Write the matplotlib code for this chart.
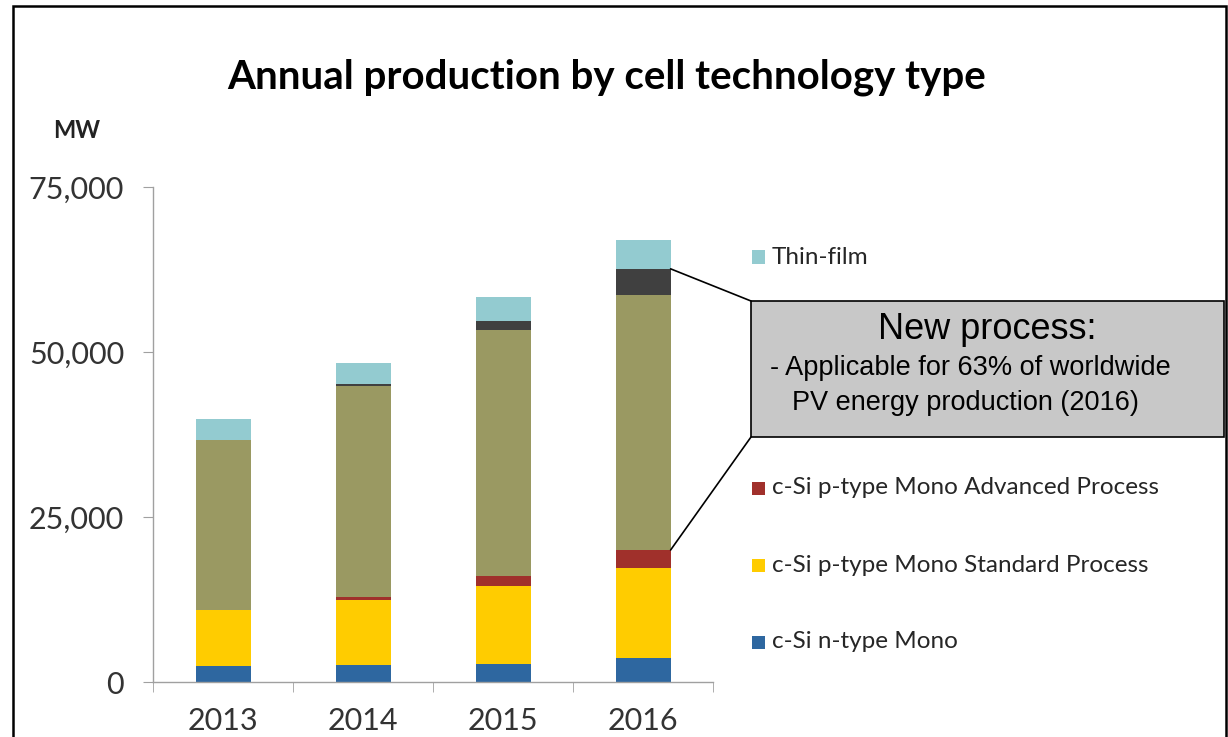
import matplotlib.pyplot as plt
from matplotlib.patches import Rectangle, ConnectionPatch
from matplotlib.ticker import FuncFormatter, FixedLocator
import numpy as np

years = ["2013", "2014", "2015", "2016"]
n_mono = [2400, 2600, 2800, 3700]
p_mono_std = [8500, 9800, 11700, 13500]
p_mono_adv = [0, 500, 1600, 2800]
p_multi_std = [25800, 31900, 37200, 38600]
p_multi_adv = [0, 400, 1400, 4000]
thin_film = [3100, 3200, 3700, 4300]

# name, values, colour, shown in legend (two entries sit under the callout box)
series = [
    ("c-Si n-type Mono", n_mono, "#2E67A0", True),
    ("c-Si p-type Mono Standard Process", p_mono_std, "#FFCC00", True),
    ("c-Si p-type Mono Advanced Process", p_mono_adv, "#A0302B", True),
    ("c-Si p-type Multi Standard Process", p_multi_std, "#9A9962", False),
    ("c-Si p-type Multi Advanced Process", p_multi_adv, "#404040", False),
    ("Thin-film", thin_film, "#93CBD0", True),
]

W, H = 1228, 737
fig = plt.figure(figsize=(W / 100, H / 100), dpi=100)
ax = fig.add_axes([153.3 / W, 55 / H, 560 / W, 495 / H])

x = np.arange(len(years))
bw = 0.39
bottom = np.zeros(len(years))
tops = []
for name, vals, col, _ in series:
    ax.bar(x, vals, bw, bottom=bottom, color=col, linewidth=0, zorder=2)
    bottom = bottom + np.array(vals)
    tops.append(bottom.copy())

ax.set_xlim(-0.5, 3.5)
ax.set_ylim(0, 75000)
ax.set_yticks([0, 25000, 50000, 75000])
ax.yaxis.set_major_formatter(FuncFormatter(lambda v, p: f"{int(v):,}"))
ax.set_xticks(x)
ax.set_xticklabels(years)
ax.xaxis.set_minor_locator(FixedLocator([-0.5, 0.5, 1.5, 2.5, 3.5]))
ax.tick_params(axis="x", which="major", length=0, pad=18, labelsize=22, labelcolor="#333333")
ax.tick_params(axis="x", which="minor", length=7, color="#A0A0A0", direction="out")
ax.tick_params(axis="y", length=7, color="#A0A0A0", pad=14, labelsize=22, labelcolor="#333333")
for lab in ax.get_xticklabels() + ax.get_yticklabels():
    lab.set_family("Lato")
for s in ["top", "right"]:
    ax.spines[s].set_visible(False)
for s in ["left", "bottom"]:
    ax.spines[s].set_color("#A0A0A0")
    ax.spines[s].set_linewidth(1)

fig.text(607 / W, 1 - 88 / H, "Annual production by cell technology type", ha="center",
         va="baseline", fontsize=29, fontweight="bold", family="Lato", color="black")
fig.text(53 / W, 1 - 138 / H, "MW", ha="left", va="baseline", fontsize=17,
         fontweight="bold", family="Lato", color="#222222")

# legend, top to bottom
leg_y = [257, 334, 411, 488, 565, 642]
for (name, vals, col, shown), yy in zip(series[::-1], leg_y):
    if not shown:
        continue
    fig.add_artist(Rectangle((752 / W, 1 - (yy + 6.5) / H), 13 / W, 13 / H,
                             transform=fig.transFigure, facecolor=col, edgecolor="none"))
    fig.text(772 / W, 1 - yy / H, name, ha="left", va="center", fontsize=17.5,
             family="Lato", color="#262626")

# callout box
bx0, bx1, by0, by1 = 751, 1224, 301, 437
fig.add_artist(Rectangle((bx0 / W, 1 - by1 / H), (bx1 - bx0) / W, (by1 - by0) / H,
                         transform=fig.transFigure, facecolor="#C8C8C8",
                         edgecolor="black", linewidth=1.2, zorder=5))
fig.text((bx0 + bx1) / 2 / W, 1 - 330 / H, "New process:", ha="center", va="center",
         fontsize=26, family="Liberation Sans", color="black", zorder=6)
fig.text(770 / W, 1 - 368 / H, "- Applicable for 63% of worldwide", ha="left",
         va="center", fontsize=19.5, family="Liberation Sans", color="black", zorder=6)
fig.text(792 / W, 1 - 403 / H, "PV energy production (2016)", ha="left",
         va="center", fontsize=19.5, family="Liberation Sans", color="black", zorder=6)

for fy, ty in [(by0, tops[4][3]), (by1, tops[2][3])]:
    con = ConnectionPatch(xyA=(bx0 / W, 1 - fy / H), coordsA=fig.transFigure,
                          xyB=(3 + bw / 2, ty), coordsB=ax.transData,
                          color="black", linewidth=1.2, zorder=6)
    fig.add_artist(con)

# outer frame
fig.add_artist(Rectangle((13 / W, -0.05), (1226 - 13) / W, 1.05 - 6 / H,
                         transform=fig.transFigure, fill=False, edgecolor="black",
                         linewidth=1.8, clip_on=False))

fig.savefig("out.png", dpi=100)
